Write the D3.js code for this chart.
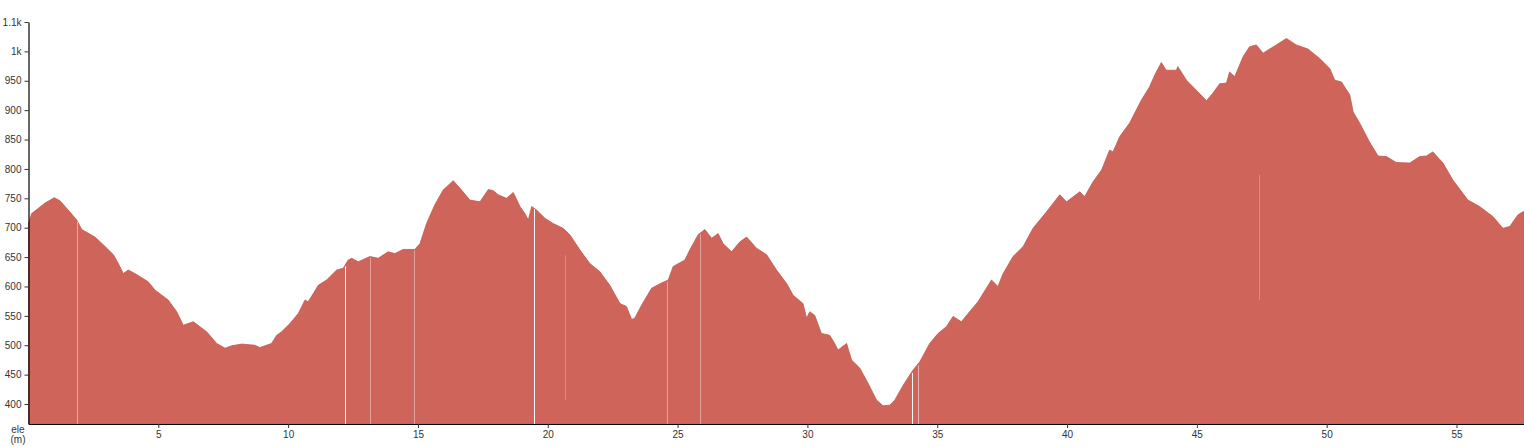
<!DOCTYPE html>
<html>
<head>
<meta charset="utf-8">
<script src="https://cdn.jsdelivr.net/npm/d3@7"></script>
<style>
  html, body { margin: 0; padding: 0; background: #fff; overflow: hidden; }
  svg { display: block; font-family: "Liberation Sans", Arial, sans-serif; }
</style>
</head>
<body>
<svg id="chart" width="1524" height="447"></svg>
<script>
// ---- data ----
const distanceKm = [0,0.12,0.38,0.64,0.99,1.21,1.53,1.86,2.05,2.56,2.95,3.27,3.46,3.65,3.84,4.10,4.61,4.87,5.38,5.71,5.96,6.35,6.86,7.25,7.57,7.82,8.21,8.72,8.91,9.36,9.56,9.75,
10.07,10.39,10.65,10.77,10.97,11.16,11.48,11.87,12.12,12.31,12.45,12.70,13.15,13.47,13.85,14.11,14.43,14.88,15.08,15.33,15.65,15.97,16.36,16.68,17.00,17.39,17.71,17.90,18.09,18.41,18.67,18.93,19.12,19.25,19.38,19.57,
19.89,20.21,20.59,20.85,21.24,21.62,22.01,22.39,22.78,23.03,23.23,23.35,23.61,24.00,24.38,24.64,24.83,25.28,25.47,25.79,26.05,26.31,26.56,26.75,27.08,27.40,27.66,28.04,28.43,28.81,
29.20,29.45,29.83,29.97,30.09,30.28,30.54,30.86,31.05,31.18,31.51,31.70,32.02,32.34,32.66,32.91,33.17,33.37,33.69,34.07,34.33,34.71,35.03,35.36,35.61,35.93,36.19,36.57,37.09,37.34,37.54,37.92,38.31,38.69,
39.21,39.72,39.98,40.49,40.68,41.00,41.33,41.64,41.77,42.03,42.41,42.86,43.18,43.38,43.63,43.82,44.21,44.27,44.60,44.98,45.37,45.62,45.88,46.14,46.26,46.46,46.78,47.03,47.29,47.55,48.06,48.45,
48.83,49.28,49.73,50.12,50.31,50.57,50.89,51.02,51.27,51.65,51.98,52.30,52.68,53.20,53.58,53.84,54.09,54.48,54.86,55.44,55.89,56.40,56.79,57.05,57.37,57.56,57.6];
const elevationM = [707,724,733,742,751,746,730,713,697,684,668,654,639,622,628,622,608,594,577,557,534,540,523,503,495,499,502,500,496,503,517,523,
537,554,577,574,588,602,611,628,631,645,648,642,651,648,659,656,663,663,673,707,739,764,780,764,747,744,765,763,756,750,760,736,724,713,736,730,
716,707,699,688,662,639,625,602,571,566,544,546,568,597,606,611,634,645,662,688,697,682,690,673,659,676,684,665,654,628,
605,585,571,546,557,551,520,517,503,492,503,475,461,435,407,397,398,407,432,458,472,503,520,532,549,540,554,574,611,600,622,651,668,699,
727,756,744,761,753,778,798,832,829,855,878,917,940,960,981,968,968,974,951,934,916,929,945,946,965,957,991,1008,1011,997,1011,1022,
1011,1004,988,971,951,948,926,897,878,846,822,821,811,810,821,822,829,810,781,747,736,719,699,702,722,727,727];

// light seams visible inside the filled profile (km, top elevation or null = up to profile, bottom elevation or null = axis)
const seamKm     = [1.87, 12.19, 13.15, 14.84, 19.46, 20.66, 24.59, 25.86, 34.02, 34.25, 47.38];
const seamTopEle = [null, null, null, null, null, 653, null, null, null, null, 790];
const seamBotEle = [null, null, null, null, null, 407, null, null, null, null, 577];
const seamAlpha  = [0.45, 0.95, 0.4, 0.4, 0.95, 0.25, 0.4, 0.4, 0.95, 0.5, 0.25];

const xTicks = [5,10,15,20,25,30,35,40,45,50,55];
const yTicks = [400,450,500,550,600,650,700,750,800,850,900,950,1000,1050];
const yTickLabels = ["400","450","500","550","600","650","700","750","800","850","900","950","1k","1.1k"];
const yLabelLines = ["ele", "(m)"];

// ---- layout ----
const mLeft = 28.5, mRight = 1524, mTop = 22, mBottom = 424;
const svg = d3.select("#chart");

const x = d3.scaleLinear().domain([0, 57.6]).range([mLeft, mRight]);
const y = d3.scaleLinear().domain([366, 1050]).range([mBottom, mTop]);

const pts = distanceKm.map((d, i) => ({ km: d, ele: elevationM[i] }));

const area = d3.area()
  .x(d => x(d.km))
  .y0(mBottom)
  .y1(d => y(d.ele))
  .curve(d3.curveLinear);

svg.append("path")
  .datum(pts)
  .attr("d", area)
  .attr("fill", "#cf655a")
  .attr("stroke", "#c25b51")
  .attr("stroke-width", 0.8);

// seams
const eleAt = km => {
  const i = d3.bisector(d => d.km).left(pts, km);
  if (i <= 0) return pts[0].ele;
  const a = pts[i - 1], b = pts[i];
  return a.ele + (b.ele - a.ele) * (km - a.km) / (b.km - a.km);
};
svg.append("g").selectAll("line")
  .data(seamKm.map((k, i) => ({ k, t: seamTopEle[i], b: seamBotEle[i], a: seamAlpha[i] })))
  .join("line")
  .attr("x1", d => Math.round(x(d.k)) + 0.5)
  .attr("x2", d => Math.round(x(d.k)) + 0.5)
  .attr("y1", d => d.t == null ? y(eleAt(d.k)) + 1 : y(d.t))
  .attr("y2", d => d.b == null ? mBottom : y(d.b))
  .attr("stroke", "#ffffff")
  .attr("stroke-opacity", d => d.a)
  .attr("stroke-width", 1);

// axes
const yAxis = d3.axisLeft(y)
  .tickValues(yTicks)
  .tickFormat((d, i) => yTickLabels[i])
  .tickSize(4)
  .tickSizeOuter(0)
  .tickPadding(3);
const gy = svg.append("g").attr("transform", `translate(${mLeft},0)`).call(yAxis);

const xAxis = d3.axisBottom(x)
  .tickValues(xTicks)
  .tickFormat(d3.format("d"))
  .tickSize(4)
  .tickSizeOuter(0)
  .tickPadding(3);
const gx = svg.append("g").attr("transform", `translate(0,${mBottom})`).call(xAxis);

[gx, gy].forEach(g => {
  g.select(".domain").attr("stroke", "#000").attr("stroke-width", 1.2);
  g.selectAll(".tick line").attr("stroke", "#333");
  g.selectAll(".tick text").attr("fill", "#333").style("font-size", "10px")
    .style("font-family", "'Liberation Sans', Arial, sans-serif");
});

svg.append("text")
  .attr("x", 18).attr("y", 433)
  .attr("text-anchor", "middle")
  .attr("fill", "#333")
  .style("font-size", "10px")
  .selectAll("tspan")
  .data(yLabelLines)
  .join("tspan")
  .attr("x", 18)
  .attr("dy", (d, i) => i === 0 ? 0 : 9.5)
  .text(d => d);
</script>
</body>
</html>
